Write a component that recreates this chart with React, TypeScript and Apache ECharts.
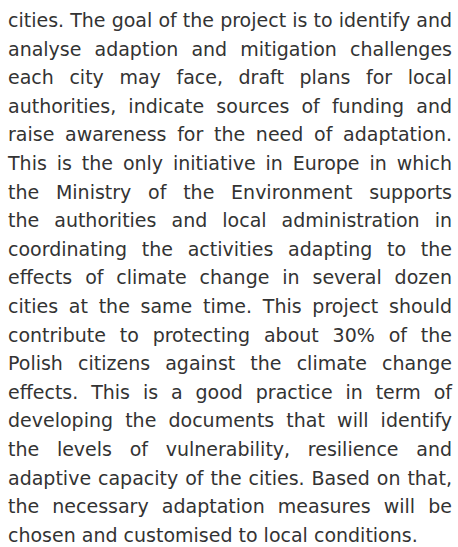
import React, { useEffect, useRef } from "react";
import * as echarts from "echarts";

const LINES: string[] = [
  "cities. The goal of the project is to identify and",
  "analyse adaption and mitigation challenges",
  "each city may face, draft plans for local",
  "authorities, indicate sources of funding and",
  "raise awareness for the need of adaptation.",
  "This is the only initiative in Europe in which",
  "the Ministry of the Environment supports",
  "the authorities and local administration in",
  "coordinating the activities adapting to the",
  "effects of climate change in several dozen",
  "cities at the same time. This project should",
  "contribute to protecting about 30% of the",
  "Polish citizens against the climate change",
  "effects. This is a good practice in term of",
  "developing the documents that will identify",
  "the levels of vulnerability, resilience and",
  "adaptive capacity of the cities. Based on that,",
  "the necessary adaptation measures will be",
  "chosen and customised to local conditions.",
];

const W = 458;
const H = 547;
const LEFT = 8;
const RIGHT = 452;
const FIRST_Y = 20;
const LINE_H = 28.6;
const FONT_SIZE = 19;
const FONT_FAMILY = "DejaVu Sans";
const COLOR = "#333333";

export default function App() {
  const ref = useRef<HTMLDivElement>(null);
  useEffect(() => {
    if (!ref.current) return;
    const chart = echarts.init(ref.current, undefined, { renderer: "svg" });
    const canvas = document.createElement("canvas");
    const ctx = canvas.getContext("2d")!;
    ctx.font = `${FONT_SIZE}px "${FONT_FAMILY}"`;
    const spaceW = ctx.measureText(" ").width;
    const elements: any[] = [];
    LINES.forEach((line, i) => {
      const words = line.split(" ");
      const widths = words.map((w) => ctx.measureText(w).width);
      const total = widths.reduce((a, b) => a + b, 0);
      const isLast = i === LINES.length - 1;
      const gap = !isLast && words.length > 1 ? (RIGHT - LEFT - total) / (words.length - 1) : spaceW;
      let x = LEFT;
      const y = FIRST_Y + i * LINE_H;
      words.forEach((w, j) => {
        elements.push({
          type: "text",
          x,
          y,
          style: {
            text: w,
            fill: COLOR,
            fontSize: FONT_SIZE,
            fontFamily: FONT_FAMILY,
            align: "left",
            verticalAlign: "middle",
          },
        });
        x += widths[j] + gap;
      });
    });
    chart.setOption({ animation: false, graphic: { elements } });
    return () => chart.dispose();
  }, []);
  return (
    <div
      ref={ref}
      style={{ position: "fixed", left: 0, top: 0, width: W, height: H, background: "#fff" }}
    />
  );
}
